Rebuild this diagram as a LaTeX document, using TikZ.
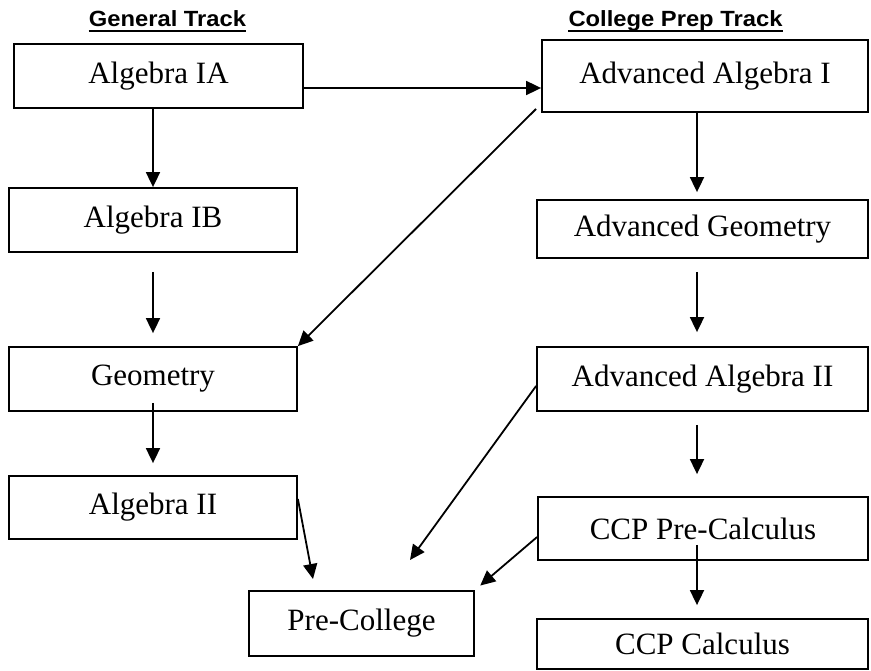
\documentclass[tikz,border=0pt]{standalone}
\usepackage{fontspec}
\setmainfont{Liberation Serif}
\newfontfamily\headfont[FakeStretch=1.08]{Liberation Sans}
\usetikzlibrary{arrows.meta}

\begin{document}
\begin{tikzpicture}[x=1pt,y=-1pt]
			\tikzstyle{arrowline} = [-{Triangle[length=15pt,width=14pt]}, line width=1.8pt]
			\tikzstyle{coursebox} = [draw=black, line width=1.8pt, inner sep=0, font=\fontsize{31}{36}\selectfont]
			\tikzstyle{trackhead} = [inner sep=0, anchor=base, font=\headfont\bfseries\fontsize{22}{26}\selectfont]
			\useasboundingbox (0,0) rectangle (871,671);
			% headings
			\node [trackhead] (gentrack) at (167.5,27) {General Track};
			\node [trackhead] (preptrack) at (675.5,27) {College Prep Track};
			\draw [line width=2pt] ([yshift=-4pt]gentrack.base west) -- ([yshift=-4pt]gentrack.base east);
			\draw [line width=2pt] ([yshift=-4pt]preptrack.base west) -- ([yshift=-4pt]preptrack.base east);
			% general track
			\node [coursebox, minimum width=289pt, minimum height=64pt] (alg1a) at (158.5,76) {Algebra IA};
			\node [coursebox, minimum width=288pt, minimum height=64pt] (alg1b) at (153,220) {Algebra IB};
			\node [coursebox, minimum width=288pt, minimum height=64pt] (geom) at (153,379) {Geometry};
			\node [coursebox, minimum width=288pt, minimum height=63pt] (alg2) at (153,507.5) {Algebra II};
			\node [coursebox, minimum width=225pt, minimum height=65pt] (precol) at (361.5,623.5) {Pre-College};
			% college prep track
			\node [coursebox, minimum width=326pt, minimum height=72pt] (advalg1) at (705,76) {Advanced Algebra I};
			\node [coursebox, minimum width=331pt, minimum height=58pt] (advgeo) at (702.5,229) {Advanced Geometry};
			\node [coursebox, minimum width=331pt, minimum height=64pt] (advalg2) at (702.5,379) {Advanced Algebra II};
			\node [coursebox, minimum width=330pt, minimum height=63pt] (precalc) at (703,528.5) {CCP Pre-Calculus};
			\node [coursebox, minimum width=331pt, minimum height=50pt] (ccpcalc) at (702.5,644) {CCP Calculus};
			% free arrow ends
			\coordinate (precolA) at (313,579);
			\coordinate (precolB) at (410,560);
			% arrows
			\draw [arrowline] ([yshift=-12pt]alg1a.east) -- ([yshift=-12pt]advalg1.west);
			\draw [arrowline] (alg1b.north |- alg1a.south) -- (alg1b.north);
			\draw [arrowline, shorten <=19pt, shorten >=13pt] (alg1b.south) -- (alg1b.south |- geom.north);
			\draw [arrowline, shorten >=12pt] ([yshift=9pt]geom.south) -- (geom.south |- alg2.north);
			\draw [arrowline] ([yshift=8.5pt]alg2.east) -- (precolA);
			\draw [arrowline] ([shift={(-5pt,4pt)}]advalg1.south west) -- (geom.north east);
			\draw [arrowline, shorten >=7pt] ([xshift=-8pt]advalg1.south) -- ([xshift=-8pt]advalg1.south |- advgeo.north);
			\draw [arrowline, shorten <=13pt, shorten >=14pt] ([xshift=-5.5pt]advgeo.south) -- ([xshift=-5.5pt]advgeo.south |- advalg2.north);
			\draw [arrowline, shorten <=13pt, shorten >=22pt] ([xshift=-5.5pt]advalg2.south) -- ([xshift=-5.5pt]advalg2.south |- precalc.north);
			\draw [arrowline, shorten >=13pt] ([shift={(-6pt,16pt)}]precalc.south) -- ([xshift=-6pt]precalc.south |- ccpcalc.north);
			\draw [arrowline] ([yshift=-7pt]advalg2.west) -- (precolB);
			\draw [arrowline, shorten >=7pt] ([yshift=-8.5pt]precalc.west) -- (precol.north east);
\end{tikzpicture}
\end{document}
